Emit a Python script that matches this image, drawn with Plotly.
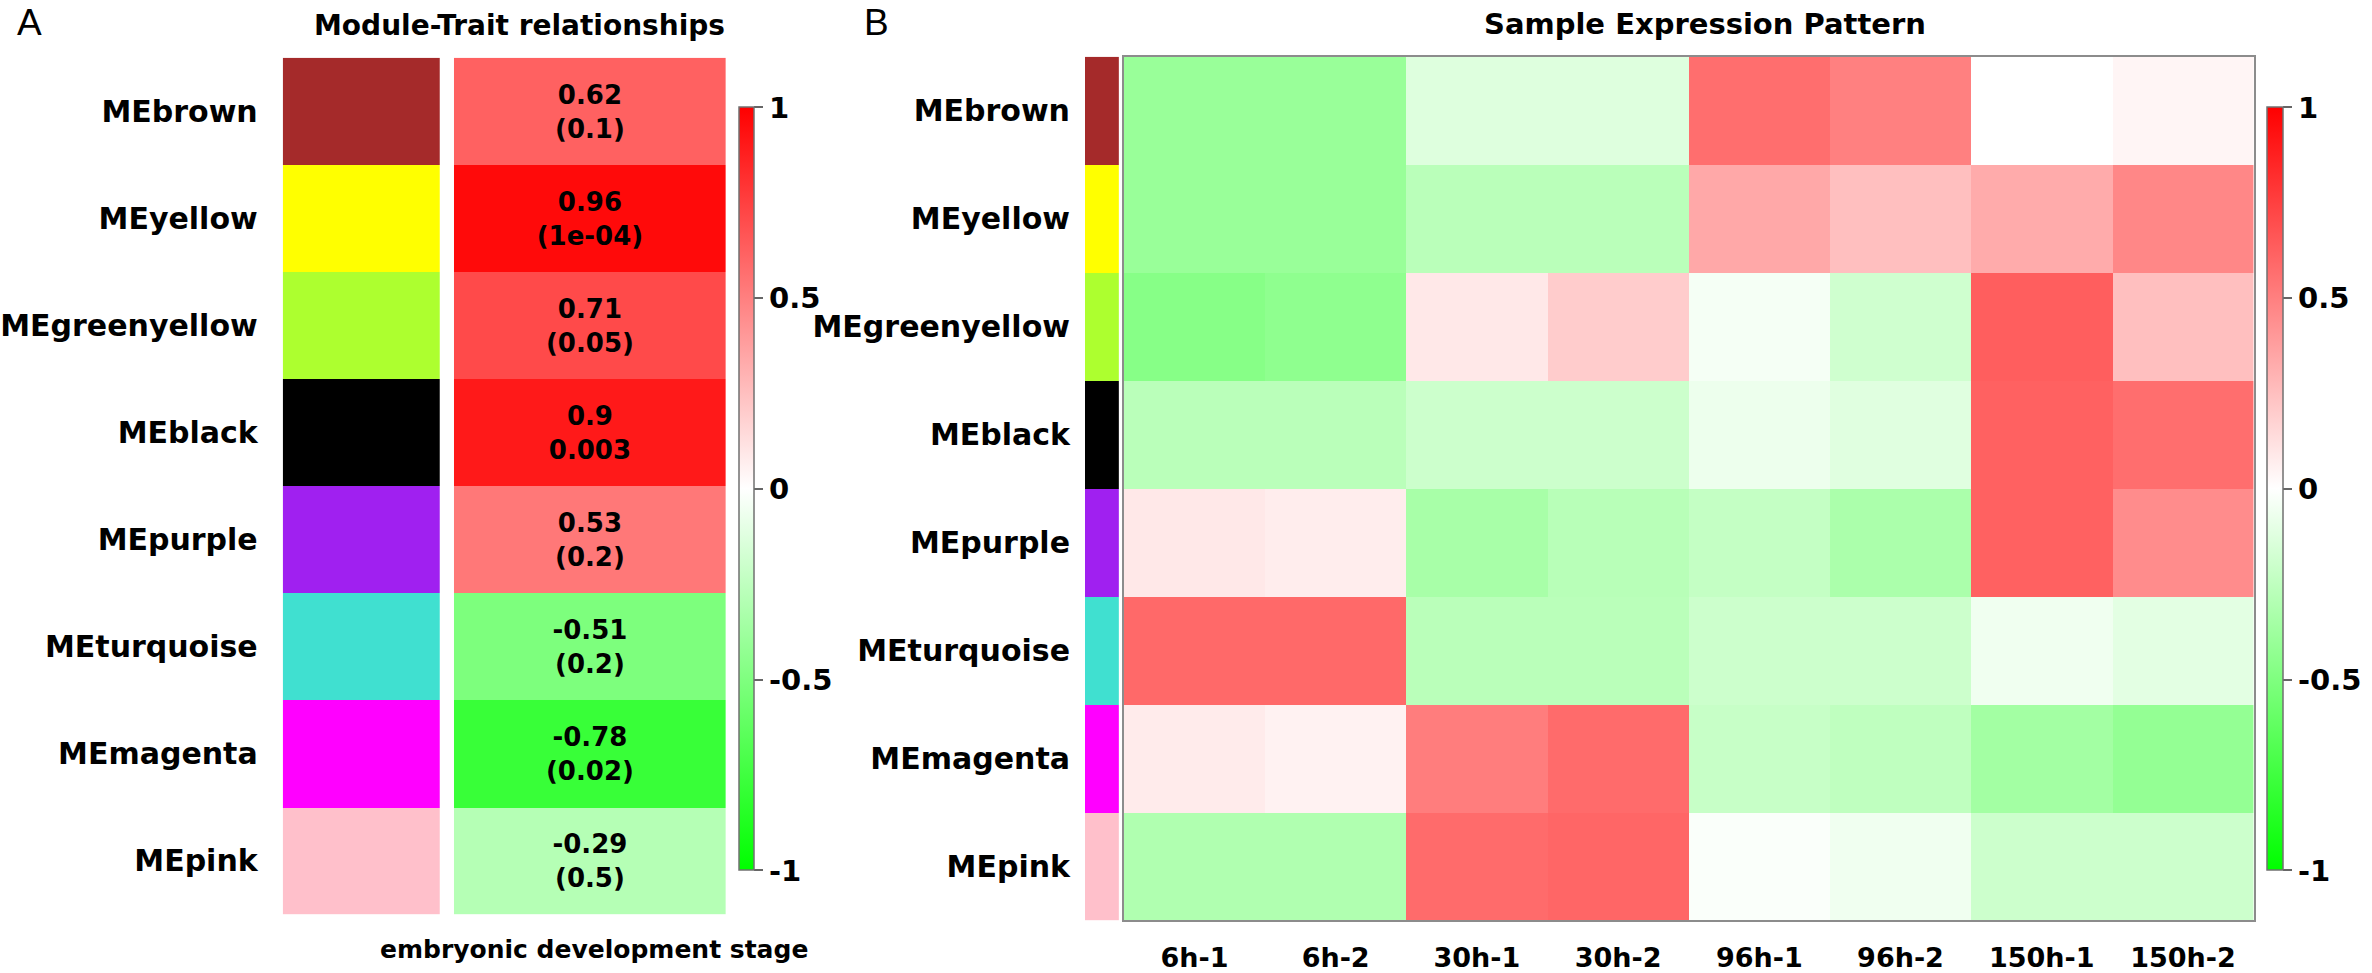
import plotly.graph_objects as go

# ---------------- data ----------------
modules = ["MEbrown", "MEyellow", "MEgreenyellow", "MEblack",
           "MEpurple", "MEturquoise", "MEmagenta", "MEpink"]
module_colors = ["#A52A2A", "#FFFF00", "#ADFF2F", "#000000",
                 "#A020F0", "#40E0D0", "#FF00FF", "#FFC0CB"]
trait_corr = [0.62, 0.96, 0.71, 0.9, 0.53, -0.51, -0.78, -0.29]
trait_p = ["(0.1)", "(1e-04)", "(0.05)", "0.003", "(0.2)", "(0.2)", "(0.02)", "(0.5)"]

samples = ["6h-1", "6h-2", "30h-1", "30h-2", "96h-1", "96h-2", "150h-1", "150h-2"]
expr_brown = [-0.40, -0.40, -0.13, -0.13, 0.57, 0.50, 0.00, 0.04]
expr_yellow = [-0.40, -0.40, -0.27, -0.27, 0.34, 0.25, 0.33, 0.47]
expr_greenyellow = [-0.47, -0.44, 0.09, 0.20, -0.04, -0.19, 0.63, 0.25]
expr_black = [-0.27, -0.27, -0.20, -0.20, -0.07, -0.12, 0.62, 0.57]
expr_purple = [0.09, 0.07, -0.34, -0.28, -0.23, -0.33, 0.62, 0.45]
expr_turquoise = [0.59, 0.59, -0.27, -0.27, -0.20, -0.20, -0.06, -0.11]
expr_magenta = [0.08, 0.05, 0.51, 0.58, -0.22, -0.25, -0.36, -0.42]
expr_pink = [-0.31, -0.31, 0.58, 0.60, -0.02, -0.06, -0.20, -0.20]

expr_matrix = [expr_brown, expr_yellow, expr_greenyellow, expr_black,
               expr_purple, expr_turquoise, expr_magenta, expr_pink]

# ---------------- layout helpers ----------------
W, H = 2372, 973
FONT = "DejaVu Sans"


def px(x):
    return x / W


def py(y):
    return 1 - y / H


rows = list(range(len(modules)))
n = len(modules)
strip_scale = []
for i, c in enumerate(module_colors):
    strip_scale.append([i / n, c])
    strip_scale.append([(i + 1) / n, c])

rg_scale = [[0, "#00FF00"], [0.5, "#FFFFFF"], [1, "#FF0000"]]

cb_common = dict(
    lenmode="pixels", len=763, thicknessmode="pixels",
    y=py((110 + 873) / 2), yanchor="middle", xanchor="left",
    xpad=0, ypad=0, outlinewidth=1.5, outlinecolor="#707070",
    tickvals=[-1, -0.5, 0, 0.5, 1], ticktext=["-1", "-0.5", "0", "0.5", "1"],
    ticks="outside", ticklen=9, tickwidth=2, tickcolor="#666666",
    tickfont=dict(family=FONT, size=29, color="black", weight="bold"),
)

fig = go.Figure()

# Panel A: module colour strip
fig.add_trace(go.Heatmap(
    z=[[i + 0.5] for i in rows], x=[0], y=rows, colorscale=strip_scale,
    zmin=0, zmax=n, showscale=False, hoverinfo="skip",
    xaxis="x", yaxis="y"))

# Panel A: module-trait correlation column
cell_text = ["<b>%s</b><br><b>%s</b>" % (str(v), p) for v, p in zip(trait_corr, trait_p)]
fig.add_trace(go.Heatmap(
    z=[[v] for v in trait_corr], x=[0], y=rows, colorscale=rg_scale,
    zmin=-1, zmax=1, text=[[t] for t in cell_text], texttemplate="%{text}",
    textfont=dict(family=FONT, size=26, color="black"),
    hoverinfo="skip", xaxis="x2", yaxis="y2",
    colorbar=dict(x=px(731), thickness=15, **cb_common)))

# Panel B: module colour strip
fig.add_trace(go.Heatmap(
    z=[[i + 0.5] for i in rows], x=[0], y=rows, colorscale=strip_scale,
    zmin=0, zmax=n, showscale=False, hoverinfo="skip",
    xaxis="x3", yaxis="y3"))

# Panel B: sample expression heatmap
fig.add_trace(go.Heatmap(
    z=expr_matrix, x=samples, y=rows, colorscale=rg_scale,
    zmin=-1, zmax=1, hoverinfo="skip", xaxis="x4", yaxis="y4",
    colorbar=dict(x=px(2267), thickness=16, **cb_common)))

label_font = dict(family=FONT, size=30, color="black", weight="bold")
base_y = dict(tickvals=rows, range=[n - 0.5, -0.5], showgrid=False, zeroline=False)
base_x = dict(showgrid=False, zeroline=False)

fig.update_layout(
    width=W, height=H, autosize=False,
    margin=dict(l=0, r=0, t=0, b=0),
    paper_bgcolor="white", plot_bgcolor="white",
    xaxis=dict(domain=[px(273), px(431)], showticklabels=False, **base_x),
    yaxis=dict(domain=[py(919), py(58)], ticktext=modules, tickfont=label_font,
               ticks="outside", ticklen=18, tickcolor="rgba(0,0,0,0)", **base_y),
    xaxis2=dict(domain=[px(445), px(718)], showticklabels=False, **base_x),
    yaxis2=dict(domain=[py(919), py(58)], anchor="x2", showticklabels=False, **base_y),
    xaxis3=dict(domain=[px(1079), px(1113)], anchor="y3", showticklabels=False, **base_x),
    yaxis3=dict(domain=[py(925), py(57)], anchor="x3", ticktext=modules, tickfont=label_font,
                ticks="outside", ticklen=8, tickcolor="rgba(0,0,0,0)", **base_y),
    xaxis4=dict(domain=[px(1118), px(2253)], anchor="y4",
                tickfont=dict(family=FONT, size=27, color="black", weight="bold"),
                ticks="outside", ticklen=12, tickcolor="rgba(0,0,0,0)",
                showline=True, mirror=True, linecolor="#8C8C8C", linewidth=2, **base_x),
    yaxis4=dict(domain=[py(925), py(57)], anchor="x4", showticklabels=False,
                showline=True, mirror=True, linecolor="#8C8C8C", linewidth=2, **base_y),
    showlegend=False,
)

annotations = [
    dict(text="A", x=px(4), y=py(0), xanchor="left", yanchor="top",
         font=dict(family="Liberation Sans", size=37, color="black")),
    dict(text="B", x=px(855), y=py(0), xanchor="left", yanchor="top",
         font=dict(family="Liberation Sans", size=37, color="black")),
    dict(text="<b>Module-Trait relationships</b>", x=px(511), y=py(26), xanchor="center",
         yanchor="middle", font=dict(family=FONT, size=28, color="black")),
    dict(text="<b>Sample Expression Pattern</b>", x=px(1702), y=py(24), xanchor="center",
         yanchor="middle", font=dict(family=FONT, size=29, color="black")),
    dict(text="<b>embryonic development stage</b>", x=px(586), y=py(954), xanchor="center",
         yanchor="middle", font=dict(family=FONT, size=25, color="black")),
]
for a in annotations:
    a.update(xref="paper", yref="paper", showarrow=False)
fig.update_layout(annotations=annotations)

fig.write_html("out.html", config={"displayModeBar": False},
               post_script="document.body.style.margin='0';document.body.style.overflow='hidden';")
